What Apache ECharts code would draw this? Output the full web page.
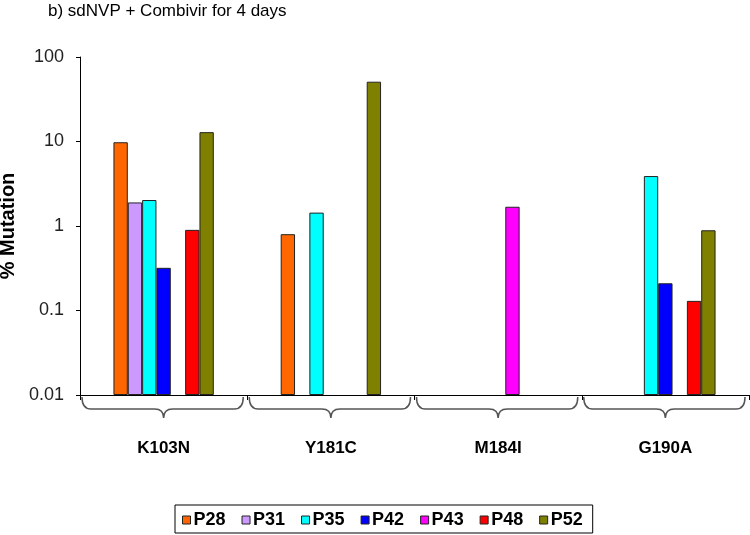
<!DOCTYPE html>
<html>
<head>
<meta charset="utf-8">
<script src="https://cdn.jsdelivr.net/npm/echarts@6/dist/echarts.min.js"></script>
<style>html,body{margin:0;padding:0;background:#fff}#c{width:750px;height:535px}</style>
</head>
<body>
<div id="c"></div>
<script>
const categories = ['K103N', 'Y181C', 'M184I', 'G190A'];
const seriesNames = ['P28', 'P31', 'P35', 'P42', 'P43', 'P48', 'P52'];
const P28 = [9.8, 0.8, null, null];
const P31 = [1.9, null, null, null];
const P35 = [2.03, 1.44, null, 3.9];
const P42 = [0.32, null, null, 0.21];
const P43 = [null, null, 1.69, null];
const P48 = [0.9, null, null, 0.13];
const P52 = [12.9, 51, null, 0.89];
const yTicks = [0.01, 0.1, 1, 10, 100];

const seriesData = [P28, P31, P35, P42, P43, P48, P52];
const colors = ['#FF6600', '#CC99FF', '#00FFFF', '#0000FF', '#FF00FF', '#FF0000', '#808000'];
const font = 'Arial, "Liberation Sans", Helvetica, sans-serif';

const chart = echarts.init(document.getElementById('c'), null, {renderer: 'canvas'});

const barSeries = seriesNames.map((n, i) => ({
  name: n,
  type: 'bar',
  data: seriesData[i],
  barGap: '0%',
  barCategoryGap: '40%',
  itemStyle: {color: colors[i], borderColor: '#222', borderWidth: 1},
  emphasis: {disabled: true}
}));

const braceSeries = {
  type: 'custom',
  silent: true,
  clip: false,
  z: 1,
  data: categories.map((c, i) => [i, yTicks[0]]),
  renderItem: function (params, api) {
    const c = api.coord([api.value(0), yTicks[0]]);
    const w = api.size([1, 1])[0];
    const x0 = c[0] - w / 2 + 2;
    const x1 = c[0] + w / 2 - 4;
    const xm = c[0];
    const y = c[1];
    const h = 14, t = 23, r = 9;
    const d = 'M' + x0 + ',' + (y + 2) +
      ' Q' + x0 + ',' + (y + h) + ' ' + (x0 + r) + ',' + (y + h) +
      ' L' + (xm - r) + ',' + (y + h) +
      ' Q' + xm + ',' + (y + h) + ' ' + xm + ',' + (y + t) +
      ' Q' + xm + ',' + (y + h) + ' ' + (xm + r) + ',' + (y + h) +
      ' L' + (x1 - r) + ',' + (y + h) +
      ' Q' + x1 + ',' + (y + h) + ' ' + x1 + ',' + (y + 2);
    return {
      type: 'path',
      shape: {pathData: d},
      style: {fill: 'none', stroke: '#555', lineWidth: 1.5}
    };
  }
};

chart.setOption({
  animation: false,
  backgroundColor: '#fff',
  title: {
    text: 'b) sdNVP + Combivir for 4 days',
    left: 43, top: -2,
    textStyle: {fontFamily: font, fontSize: 17, fontWeight: 'normal', color: '#000'}
  },
  legend: {
    data: seriesNames,
    bottom: 2,
    left: 175,
    itemWidth: 8, itemHeight: 8, itemGap: 16,
    icon: 'rect',
    borderColor: '#000', borderWidth: 1,
    padding: [6, 10, 4, 7],
    textStyle: {fontFamily: font, fontSize: 18, fontWeight: 'bold', color: '#000', padding: [0, 0, 0, -2]},
    itemStyle: {borderColor: '#222', borderWidth: 1}
  },
  grid: {left: 80, right: 1, top: 57, bottom: 140, containLabel: false, outerBoundsMode: 'none'},
  xAxis: {
    type: 'category',
    data: categories,
    axisLine: {show: true, lineStyle: {color: '#000', width: 1}},
    axisTick: {show: true, length: 5, lineStyle: {color: '#000'}},
    axisLabel: {margin: 45, fontFamily: font, fontSize: 17, fontWeight: 'bold', color: '#000'},
    splitLine: {show: false}
  },
  yAxis: {
    type: 'log',
    logBase: 10,
    min: yTicks[0],
    max: yTicks[yTicks.length - 1],
    startValue: yTicks[0],
    name: '% Mutation',
    nameLocation: 'middle',
    nameRotate: 90,
    nameGap: 57,
    nameTextStyle: {fontFamily: font, fontSize: 20, fontWeight: 'bold', color: '#000'},
    axisLine: {show: true, lineStyle: {color: '#000', width: 1}},
    axisTick: {show: true, length: 4, lineStyle: {color: '#000'}},
    axisLabel: {fontFamily: font, fontSize: 18, color: '#222', margin: 16,
      formatter: v => String(v)},
    splitLine: {show: false},
    minorTick: {show: false}
  },
  series: barSeries.concat([braceSeries])
});
</script>
</body>
</html>
